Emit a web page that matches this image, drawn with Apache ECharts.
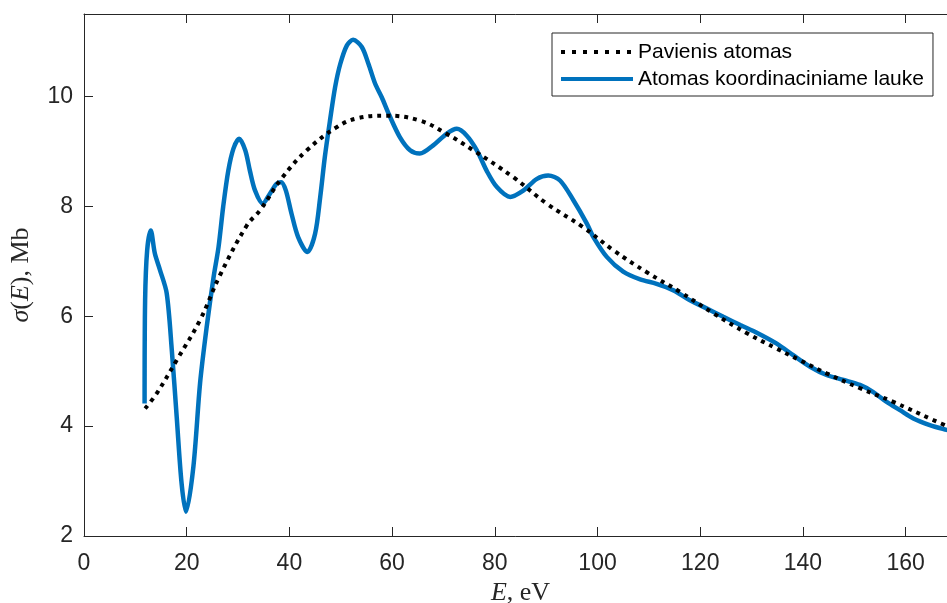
<!DOCTYPE html>
<html>
<head>
<meta charset="utf-8">
<script src="https://cdn.jsdelivr.net/npm/echarts@6/dist/echarts.min.js"></script>
<style>
  html, body { margin: 0; padding: 0; background: #fff; }
  #chart { width: 947px; height: 603px; }
</style>
</head>
<body>
<div id="chart"></div>
<script>
// Photoionisation cross-section, energies in eV
const freeAtomE = [11.9, 14.2, 18.05, 22.6, 26.5, 31.7, 34.3, 38.5, 43.4, 49.2, 53.1, 58.9, 65.4, 70.6, 75.8, 83.6, 90.1, 97.2, 103.1, 109.6, 116.1, 122.6, 129.1, 134.9, 139.4, 144.6, 151.1, 157.6, 165.4, 170];
const freeAtomSigma = [4.32, 4.6, 5.2, 5.93, 6.75, 7.65, 7.93, 8.51, 9.02, 9.44, 9.6, 9.65, 9.56, 9.32, 9.02, 8.53, 8.05, 7.62, 7.2, 6.8, 6.44, 6.05, 5.69, 5.41, 5.2, 4.96, 4.69, 4.44, 4.11, 3.92];

const fieldAtomE = [
  11.8, 11.9, 12.3, 13.0, 13.8, 14.8, 16.1, 17.1, 18.05, 19.0,
  19.86, 21.3, 22.6, 23.9, 25.2, 26.2, 27.1, 28.1, 29.1, 30.2,
  31.4, 32.3, 33.3, 34.8, 36.2, 37.5, 38.4, 39.3, 40.4, 41.7,
  43.5, 45.0, 46.0, 46.9, 47.9, 48.9, 49.9, 51.2, 52.4, 54.1,
  55.4, 56.7, 58.0, 59.4, 61.5, 63.5, 65.4, 68.0, 70.6, 72.6,
  74.5, 76.5, 78.4, 80.4, 83.0, 85.6, 88.2, 90.4, 92.7, 95.3,
  97.9, 99.2, 101.8, 105.0, 108.3, 111.5, 114.8, 118.0, 121.3, 124.5,
  127.8, 131.2, 134.9, 138.1, 141.4, 144.6, 147.9, 151.1, 153.7, 156.3,
  158.9, 161.5, 164.7, 168.0, 170
];
const fieldAtomSigma = [
  4.41, 6.29, 7.2, 7.56, 7.14, 6.84, 6.42, 5.38, 4.17, 2.96,
  2.44, 3.26, 4.78, 5.81, 6.69, 7.26, 7.99, 8.65, 9.05, 9.23,
  9.02, 8.65, 8.29, 8.05, 8.23, 8.41, 8.44, 8.29, 7.87, 7.44,
  7.17, 7.5, 8.17, 8.9, 9.56, 10.17, 10.59, 10.93, 11.03, 10.9,
  10.59, 10.23, 9.98, 9.67, 9.26, 9.02, 8.96, 9.11, 9.32, 9.41,
  9.29, 9.02, 8.65, 8.35, 8.17, 8.29, 8.5, 8.56, 8.47, 8.11,
  7.69, 7.44, 7.08, 6.81, 6.67, 6.59, 6.47, 6.29, 6.14, 5.99,
  5.84, 5.69, 5.5, 5.29, 5.08, 4.93, 4.84, 4.75, 4.62, 4.44,
  4.29, 4.14, 4.02, 3.93, 3.88
];

const xTicks = [0, 20, 40, 60, 80, 100, 120, 140, 160];
const yTicks = [2, 4, 6, 8, 10];

const seriesNames = ['Pavienis atomas', 'Atomas koordinaciniame lauke'];

const pairs = (xs, ys) => xs.map((x, i) => [x, ys[i]]);

const axisColor = '#262626';
const sansFont = '"Liberation Sans", Arial, sans-serif';
const serifFont = '"Liberation Serif", "Times New Roman", serif';

const chart = echarts.init(document.getElementById('chart'), null, { renderer: 'canvas' });

chart.setOption({
  backgroundColor: '#ffffff',
  animation: false,
  grid: { left: 84, top: 14, width: 873, height: 522, containLabel: false, outerBoundsMode: 'none' },
  legend: {
    orient: 'vertical',
    left: 552,
    top: 33,
    data: [
      { name: seriesNames[0], lineStyle: { width: 4, type: [4, 7], cap: 'butt', color: '#000000' } },
      { name: seriesNames[1], lineStyle: { width: 4, color: '#0072BD' } }
    ],
    itemWidth: 72,
    itemHeight: 14,
    itemGap: 3,
    padding: [7, 9, 5, 7],
    backgroundColor: '#ffffff',
    borderColor: axisColor,
    borderWidth: 1,
    itemStyle: { opacity: 0 },
    textStyle: { fontFamily: sansFont, fontSize: 21, color: '#000', lineHeight: 24 }
  },
  xAxis: [
    {
      type: 'value',
      position: 'bottom',
      min: 0,
      max: 170,
      interval: 20,
      name: '{i|E}{r|, eV}',
      nameLocation: 'middle',
      nameGap: 41,
      nameTextStyle: {
        rich: {
          i: { fontFamily: serifFont, fontStyle: 'italic', fontSize: 26, color: axisColor },
          r: { fontFamily: serifFont, fontSize: 26, color: axisColor }
        }
      },
      axisLine: { show: true, lineStyle: { color: axisColor, width: 1 } },
      axisTick: { show: true, inside: true, length: 9, lineStyle: { color: axisColor, width: 1 } },
      axisLabel: {
        show: true, margin: 16, showMaxLabel: false,
        fontFamily: sansFont, fontSize: 23, color: axisColor,
        formatter: v => (xTicks.includes(v) ? String(v) : '')
      },
      splitLine: { show: false }
    },
    {
      type: 'value',
      position: 'top',
      min: 0,
      max: 170,
      interval: 20,
      axisLine: { show: true, onZero: false, lineStyle: { color: axisColor, width: 1 } },
      axisTick: { show: true, inside: true, length: 9, lineStyle: { color: axisColor, width: 1 } },
      axisLabel: { show: false },
      splitLine: { show: false }
    }
  ],
  yAxis: {
    type: 'value',
    min: 2,
    max: 11.5,
    interval: 2,
    name: '{i|σ}{r|(}{i|E}{r|), Mb}',
    nameLocation: 'middle',
    nameGap: 50,
    nameRotate: 90,
    nameTextStyle: {
      rich: {
        i: { fontFamily: serifFont, fontStyle: 'italic', fontSize: 26, color: axisColor },
        r: { fontFamily: serifFont, fontSize: 26, color: axisColor }
      }
    },
    axisLine: { show: true, lineStyle: { color: axisColor, width: 1 } },
    axisTick: { show: true, inside: true, length: 9, lineStyle: { color: axisColor, width: 1 } },
    axisLabel: {
      show: true, margin: 11, showMaxLabel: false,
      fontFamily: sansFont, fontSize: 23, color: axisColor,
      formatter: v => (yTicks.includes(v) ? String(v) : '')
    },
    splitLine: { show: false }
  },
  series: [
    {
      name: seriesNames[0],
      type: 'line',
      data: pairs(freeAtomE, freeAtomSigma),
      showSymbol: false,
      symbol: 'none',
      smooth: 0.4,
      clip: true,
      z: 3,
      lineStyle: { color: '#000000', width: 4, type: [4, 5], cap: 'butt' },
      itemStyle: { color: '#000000' }
    },
    {
      name: seriesNames[1],
      type: 'line',
      data: pairs(fieldAtomE, fieldAtomSigma),
      showSymbol: false,
      symbol: 'none',
      smooth: 0.3,
      clip: true,
      z: 2,
      lineStyle: { color: '#0072BD', width: 4.5 },
      itemStyle: { color: '#0072BD' }
    }
  ]
});
</script>
</body>
</html>
